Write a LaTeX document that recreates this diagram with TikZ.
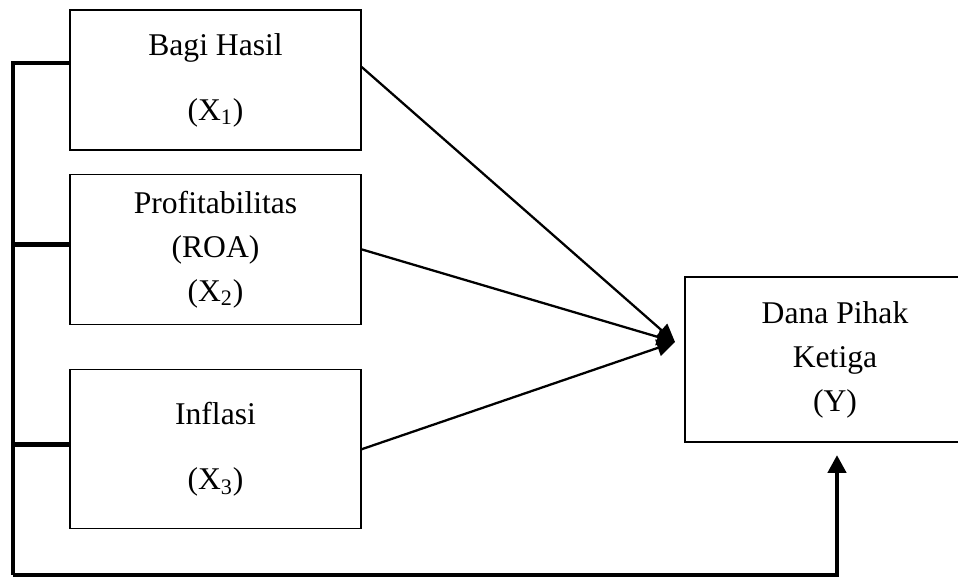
\documentclass[tikz,border=0pt]{standalone}
\usepackage{fontspec}
\setmainfont{Liberation Serif}
\usetikzlibrary{positioning, arrows.meta}

\begin{document}
\begin{tikzpicture}[x=0.02cm, y=-0.02cm, node distance=0.46cm]
    \tikzset{
        block/.style={rectangle, draw, line width=0.8pt, minimum width=5.82cm,
                     align=center, inner sep=0pt, font=\fontsize{18}{25}\selectfont},
        arrow/.style={line width=1.3pt, -{Triangle[length=0.36cm, width=0.34cm]}},
        spine/.style={line width=2.8pt}
    }
    \clip (0,0) rectangle (958,578);
    \node[block, minimum height=2.8cm] (bagi) at (215.5,80) {Bagi Hasil\\[12pt](X\textsubscript{1})};
    \node[block, minimum height=3cm, below=of bagi] (roa) {Profitabilitas\\(ROA)\\(X\textsubscript{2})};
    \node[block, minimum height=3.18cm, below=0.88cm of roa] (inflasi) {Inflasi\\[12pt](X\textsubscript{3})};
    \node[block, minimum width=6cm, minimum height=3.3cm] (dpk) at (835,359.5) {Dana Pihak\\Ketiga\\(Y)\hspace*{0pt}};
    % arrows into Y
    \coordinate (meet) at (675,342);
    \draw[arrow] ([yshift=0.26cm]bagi.east) -- (meet);
    \draw[arrow] (roa.east) -- (meet);
    \draw[arrow] (inflasi.east) -- (meet);
    % simultaneous line
    \coordinate (base) at (13,575);
    \coordinate (feed) at (837,455);
    \draw[spine] ([yshift=0.34cm]bagi.west) -| (base);
    \draw[spine] ([yshift=0.1cm]roa.west) -- ([yshift=0.1cm]roa.west -| base);
    \draw[spine] ([yshift=0.09cm]inflasi.west) -- ([yshift=0.09cm]inflasi.west -| base);
    \draw[spine, -{Triangle[length=0.36cm, width=0.36cm]}] (base) -| (feed);
\end{tikzpicture}
\end{document}
